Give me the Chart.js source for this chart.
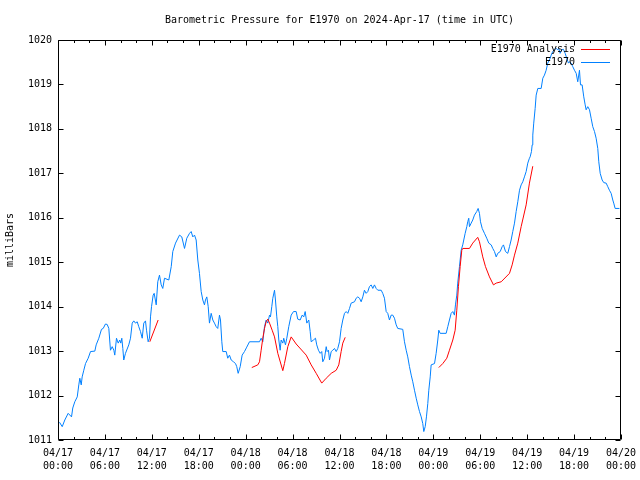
<!DOCTYPE html>
<html><head><meta charset="utf-8">
<script src="https://cdn.jsdelivr.net/npm/chart.js@4"></script>
<style>html,body{margin:0;padding:0;background:#fff}canvas{display:block}</style>
</head><body>
<canvas id="c" width="640" height="480"></canvas>
<script>
// Hours since 2024-04-17 00:00 UTC
const stationHours = [0.19,0.54,0.87,1.30,1.73,1.89,2.15,2.46,2.66,2.79,2.97,3.09,3.30,3.52,3.86,4.16,4.71,4.88,5.22,5.56,5.78,6.07,6.29,6.50,6.71,6.93,7.14,7.26,7.48,7.70,7.90,8.03,8.16,8.29,8.41,8.63,9.05,9.27,9.49,9.69,9.91,10.13,10.33,10.55,10.77,10.97,11.19,11.32,11.53,11.70,11.83,11.96,12.17,12.30,12.56,12.76,12.98,13.20,13.40,13.62,14.17,14.48,14.68,15.03,15.54,15.83,16.18,16.47,16.82,17.03,17.24,17.46,17.67,17.88,18.09,18.31,18.52,18.73,18.86,19.03,19.21,19.37,19.59,19.80,20.01,20.23,20.43,20.65,20.78,20.95,21.07,21.51,21.71,21.93,22.15,22.44,22.70,22.86,23.04,23.30,23.55,23.85,24.14,24.49,25.77,25.98,26.19,26.41,26.62,26.83,27.05,27.17,27.34,27.47,27.69,27.81,27.98,28.11,28.24,28.41,28.54,28.75,28.87,29.09,29.26,29.51,29.82,30.12,30.46,30.66,30.97,31.23,31.43,31.61,31.82,32.07,32.25,32.38,32.67,32.93,33.09,33.31,33.53,33.73,33.86,34.08,34.30,34.42,34.59,34.72,34.94,35.14,35.36,35.58,35.78,36.00,36.21,36.42,36.64,36.85,37.06,37.28,37.49,37.92,38.13,38.34,38.56,38.77,38.98,39.19,39.41,39.62,39.83,40.05,40.26,40.47,40.69,40.90,41.33,41.53,41.75,41.97,42.17,42.39,42.61,42.81,43.03,43.25,43.45,44.09,44.31,44.53,44.73,44.95,45.17,45.37,45.59,45.81,46.01,46.23,46.45,46.65,46.78,46.96,47.12,47.29,47.42,47.60,47.72,48.15,48.36,48.57,48.70,48.87,49.64,49.85,50.06,50.28,50.49,50.70,50.83,51.00,51.12,51.34,51.56,51.76,51.89,52.07,52.28,52.40,52.53,52.62,52.84,53.04,53.26,53.55,53.73,53.90,54.03,54.25,54.54,54.83,55.09,55.40,55.60,55.82,56.04,56.24,56.55,56.80,56.97,57.23,57.52,57.74,57.95,58.16,58.38,58.59,58.80,59.02,59.23,59.44,59.65,59.87,60.08,60.29,60.38,60.55,60.64,60.72,60.84,61.02,61.15,61.36,61.79,62.00,62.21,62.43,62.63,62.85,63.07,63.27,63.49,63.71,63.91,64.04,64.22,64.42,64.64,64.86,65.06,65.28,65.41,65.63,65.83,66.05,66.27,66.47,66.69,66.82,67.03,67.24,67.42,67.54,67.75,67.97,68.18,68.39,68.61,68.82,69.03,69.16,69.34,69.59,69.80,70.10,70.31,70.52,70.74,70.95,71.07,71.25,71.80];
const stationPressure = [1011.40,1011.30,1011.45,1011.60,1011.52,1011.72,1011.86,1011.97,1012.24,1012.39,1012.24,1012.42,1012.57,1012.72,1012.84,1012.99,1013.00,1013.14,1013.29,1013.49,1013.51,1013.61,1013.60,1013.51,1013.02,1013.10,1013.02,1012.91,1013.29,1013.18,1013.25,1013.18,1013.29,1013.06,1012.80,1012.95,1013.14,1013.29,1013.63,1013.68,1013.63,1013.66,1013.55,1013.44,1013.29,1013.63,1013.68,1013.47,1013.21,1013.29,1013.77,1014.00,1014.26,1014.30,1014.04,1014.56,1014.71,1014.49,1014.41,1014.64,1014.60,1014.90,1015.24,1015.43,1015.61,1015.57,1015.31,1015.54,1015.65,1015.69,1015.57,1015.61,1015.50,1015.05,1014.75,1014.34,1014.15,1014.04,1014.15,1014.22,1014.00,1013.63,1013.85,1013.70,1013.63,1013.55,1013.51,1013.81,1013.70,1013.21,1012.99,1012.99,1012.84,1012.91,1012.80,1012.76,1012.72,1012.65,1012.50,1012.65,1012.91,1012.99,1013.09,1013.21,1013.21,1013.29,1013.21,1013.55,1013.70,1013.63,1013.81,1013.77,1014.00,1014.19,1014.37,1014.15,1013.77,1013.55,1013.25,1013.02,1013.25,1013.18,1013.29,1013.14,1013.29,1013.55,1013.81,1013.89,1013.89,1013.72,1013.70,1013.81,1013.77,1013.89,1013.63,1013.70,1013.44,1013.21,1013.25,1013.29,1013.14,1013.02,1012.95,1012.99,1012.76,1012.84,1013.10,1012.99,1013.02,1012.80,1012.99,1013.02,1013.06,1012.99,1013.06,1013.21,1013.51,1013.70,1013.85,1013.89,1013.85,1013.96,1014.08,1014.11,1014.19,1014.22,1014.19,1014.11,1014.22,1014.37,1014.30,1014.34,1014.45,1014.49,1014.41,1014.49,1014.41,1014.37,1014.37,1014.30,1014.19,1013.89,1013.85,1013.70,1013.81,1013.81,1013.74,1013.59,1013.51,1013.49,1013.21,1013.02,1012.87,1012.65,1012.46,1012.31,1012.12,1011.94,1011.79,1011.64,1011.52,1011.37,1011.19,1011.30,1011.52,1011.82,1012.12,1012.42,1012.69,1012.72,1012.95,1013.25,1013.47,1013.40,1013.40,1013.55,1013.70,1013.85,1013.89,1013.81,1014.04,1014.26,1014.53,1014.90,1015.27,1015.39,1015.50,1015.65,1015.80,1015.91,1015.99,1015.80,1015.88,1015.95,1016.06,1016.14,1016.21,1016.10,1015.91,1015.76,1015.65,1015.54,1015.43,1015.39,1015.31,1015.24,1015.12,1015.20,1015.24,1015.35,1015.39,1015.24,1015.20,1015.35,1015.50,1015.69,1015.88,1016.14,1016.36,1016.62,1016.74,1016.81,1016.92,1017.04,1017.23,1017.34,1017.37,1017.49,1017.64,1017.86,1018.13,1018.46,1018.76,1018.91,1018.91,1019.14,1019.21,1019.32,1019.48,1019.55,1019.66,1019.74,1019.79,1019.81,1019.78,1019.81,1019.70,1019.78,1019.79,1019.70,1019.59,1019.48,1019.51,1019.48,1019.40,1019.32,1019.25,1019.06,1019.32,1018.99,1018.99,1018.72,1018.54,1018.43,1018.50,1018.43,1018.24,1018.05,1017.94,1017.79,1017.56,1017.26,1017.00,1016.85,1016.79,1016.78,1016.70,1016.62,1016.55,1016.40,1016.33,1016.21,1016.21];

// Analysis: null values separate the segments
const analysisHours = [11.74,12.81,18.5,24.78,25.55,25.77,25.98,26.19,26.41,26.62,26.83,27.05,27.39,27.69,28.11,28.75,28.96,29.39,29.82,30.46,31.74,32.38,33.02,33.73,34.30,34.94,35.58,35.91,36.21,36.42,36.73,42.0,48.70,49.21,49.72,50.06,50.49,50.79,51.00,51.21,51.43,51.64,51.76,52.62,53.04,53.68,53.90,54.32,54.67,55.18,55.69,56.04,56.68,57.74,58.08,58.38,58.80,59.23,59.87,60.29,60.72];
const analysisPressure = [1013.21,1013.70,null,1012.63,1012.69,1012.76,1013.02,1013.29,1013.51,1013.66,1013.72,1013.63,1013.47,1013.32,1012.95,1012.56,1012.72,1013.10,1013.32,1013.16,1012.91,1012.69,1012.50,1012.28,1012.39,1012.50,1012.57,1012.69,1012.99,1013.18,1013.31,null,1012.63,1012.72,1012.84,1013.02,1013.25,1013.47,1013.92,1014.45,1014.90,1015.27,1015.31,1015.31,1015.43,1015.56,1015.46,1015.12,1014.90,1014.67,1014.49,1014.53,1014.56,1014.75,1014.94,1015.16,1015.43,1015.80,1016.29,1016.78,1017.16];

const tickDates = ['04/17','04/17','04/17','04/17','04/18','04/18','04/18','04/18','04/19','04/19','04/19','04/19','04/20'];
const tickTimes = ['00:00','06:00','12:00','18:00','00:00','06:00','12:00','18:00','00:00','06:00','12:00','18:00','00:00'];
const seriesNames = ['E1970 Analysis','E1970'];
const seriesColors = ['#ff0000','#0080ff'];

const MONO = "'DejaVu Sans Mono', 'Liberation Mono', monospace";
Chart.defaults.color = '#000';
Chart.defaults.font.family = MONO;

const framePlugin = {
  id: 'frame',
  afterDatasetsDraw(chart) {
    const {ctx, chartArea: a, scales: {x, y}} = chart;
    ctx.save();
    ctx.strokeStyle = '#000';
    ctx.lineWidth = 1;
    const L = Math.round(a.left) + 0.5, R = Math.round(a.right) - 0.5;
    const T = Math.round(a.top) + 0.5, B = Math.round(a.bottom) - 0.5;
    ctx.beginPath();
    ctx.rect(L, T, R - L, B - T);
    for (let h = 0; h <= 72; h += 2) {
      const len = (h % 6 === 0) ? 5 : 2.5;
      const px = Math.round(x.getPixelForValue(h)) + 0.5;
      ctx.moveTo(px, B); ctx.lineTo(px, B - len);
      ctx.moveTo(px, T); ctx.lineTo(px, T + len);
    }
    for (let v = 1011; v <= 1020; v++) {
      const py = Math.round(y.getPixelForValue(v)) + 0.5;
      ctx.moveTo(L, py); ctx.lineTo(L + 5, py);
      ctx.moveTo(R, py); ctx.lineTo(R - 5, py);
    }
    ctx.stroke();
    // legend (gnuplot style: text then sample line)
    ctx.font = '10px ' + MONO;
    ctx.textAlign = 'right';
    ctx.textBaseline = 'middle';
    ctx.fillStyle = '#000';
    chart.data.datasets.forEach((ds, i) => {
      const yy = 49 + i * 13;
      ctx.fillText(ds.label, 575, yy);
      ctx.beginPath();
      ctx.strokeStyle = ds.borderColor;
      ctx.moveTo(581, yy + 0.5); ctx.lineTo(610, yy + 0.5);
      ctx.stroke();
    });
    ctx.restore();
  }
};

new Chart(document.getElementById('c'), {
  type: 'line',
  data: {
    datasets: [
      {
        label: seriesNames[0],
        data: analysisHours.map((h, i) => ({x: h, y: analysisPressure[i]})),
        borderColor: seriesColors[0],
        borderWidth: 1,
        pointRadius: 0,
        spanGaps: false,
        tension: 0
      },
      {
        label: seriesNames[1],
        data: stationHours.map((h, i) => ({x: h, y: stationPressure[i]})),
        borderColor: seriesColors[1],
        borderWidth: 1,
        pointRadius: 0,
        tension: 0
      }
    ]
  },
  options: {
    responsive: false,
    animation: false,
    events: [],
    layout: {padding: {left: 0, right: 19, top: 0, bottom: 0}},
    plugins: {
      legend: {display: false},
      tooltip: {enabled: false},
      title: {
        display: true,
        fullSize: false,
        text: 'Barometric Pressure for E1970 on 2024-Apr-17 (time in UTC)',
        color: '#000',
        font: {family: MONO, size: 10, weight: 'normal', lineHeight: 1.2},
        padding: {top: 14, bottom: 14}
      }
    },
    scales: {
      x: {
        type: 'linear',
        min: 0, max: 72,
        afterFit(s) { s.height = 40; s.paddingLeft = 0; s.paddingRight = 0; },
        grid: {display: false, drawTicks: false},
        border: {display: false},
        ticks: {
          stepSize: 6,
          autoSkip: false,
          maxRotation: 0,
          padding: 7,
          color: '#000',
          font: {family: MONO, size: 10, lineHeight: 1.3},
          callback: (v) => { const i = Math.round(v / 6); return [tickDates[i], tickTimes[i]]; }
        }
      },
      y: {
        type: 'linear',
        min: 1011, max: 1020,
        afterFit(s) { s.width = 58; },
        grid: {display: false, drawTicks: false},
        border: {display: false},
        title: {
          display: true,
          text: 'milliBars',
          color: '#000',
          font: {family: MONO, size: 10},
          padding: {top: 4, bottom: 0}
        },
        ticks: {
          stepSize: 1,
          padding: 6,
          color: '#000',
          font: {family: MONO, size: 10},
          callback: (v) => String(v)
        }
      }
    }
  },
  plugins: [framePlugin]
});
</script>
</body></html>
